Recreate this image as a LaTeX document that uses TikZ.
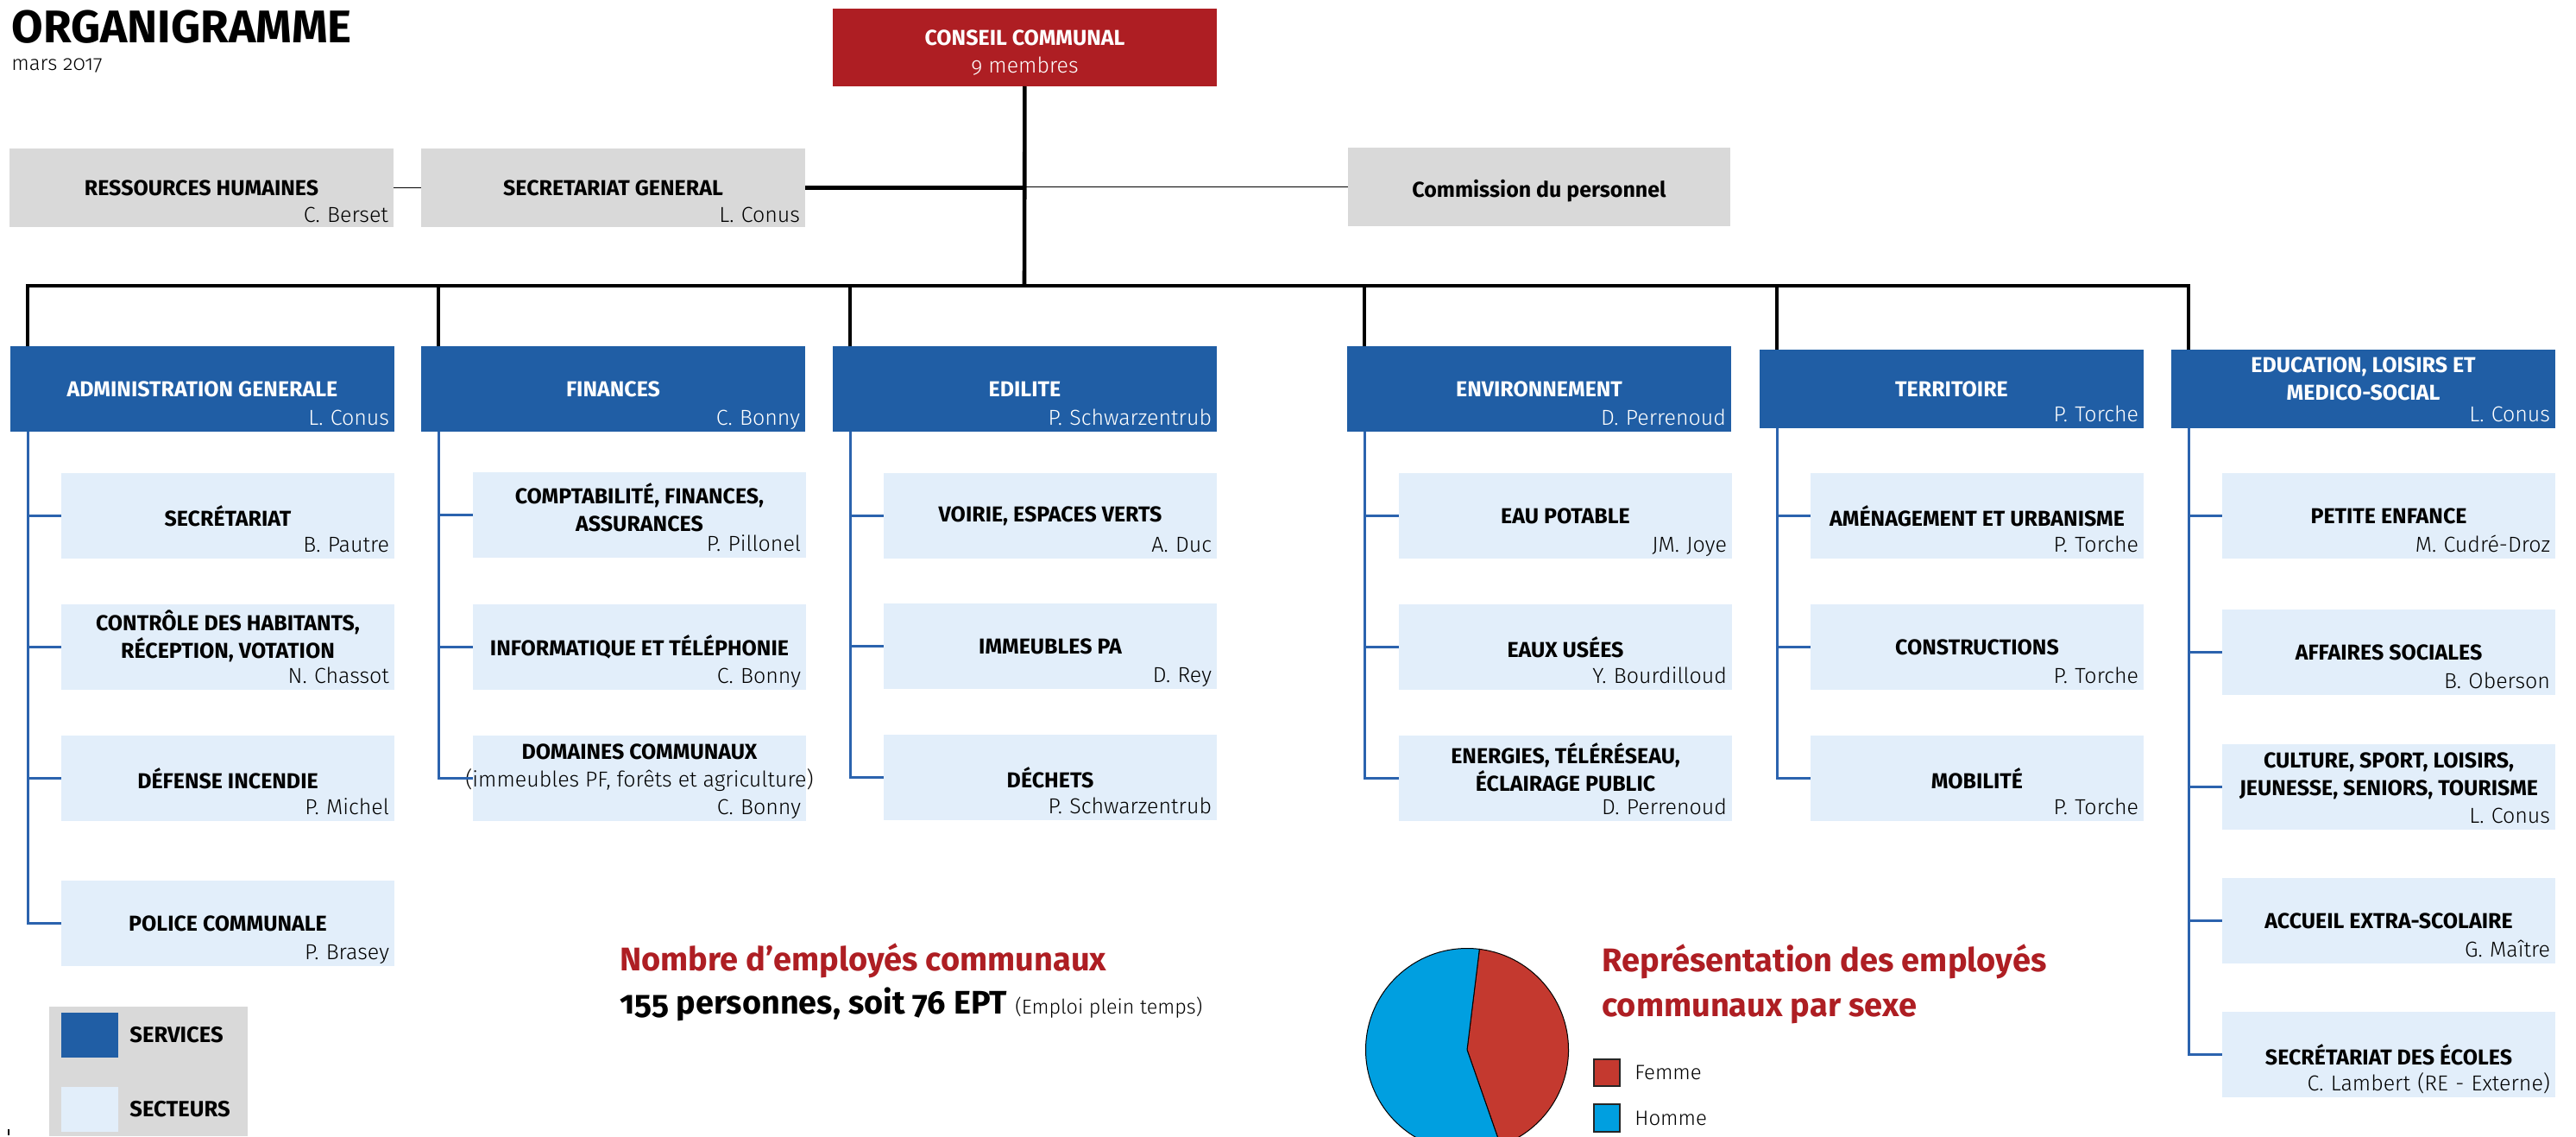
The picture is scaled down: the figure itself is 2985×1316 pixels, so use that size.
\documentclass[tikz,border=0pt]{standalone}
\usepackage{fontspec}
\setmainfont{Fira Sans}[Numbers=OldStyle]
\newfontfamily\lightfont{Fira Sans Light}[Numbers=OldStyle]
\usetikzlibrary{positioning}
\definecolor{ccred}{HTML}{AE1E23}
\definecolor{svcblue}{HTML}{205EA5}
\definecolor{secblue}{HTML}{E2EEFA}
\definecolor{boxgrey}{HTML}{D9D9D9}
\definecolor{linkblue}{HTML}{2B63AE}
\definecolor{piered}{HTML}{C4392F}
\definecolor{pieblue}{HTML}{009FE0}
\begin{document}
\begin{tikzpicture}[x=0.5pt, y=-0.5pt, line join=miter]
\tikzstyle{box}=[inner sep=0pt, outer sep=0pt, anchor=north west]
\tikzstyle{svc}=[box, fill=svcblue, minimum width=222.5pt, minimum height=49.5pt]
\tikzstyle{sec}=[box, fill=secblue, minimum width=193pt, minimum height=49.5pt]
\tikzstyle{gbox}=[box, fill=boxgrey, minimum width=222.5pt, minimum height=45.5pt]
\tikzstyle{ttl}=[inner sep=0pt, align=center, font=\fontsize{12.5}{16}\selectfont\bfseries]
\tikzstyle{ttlw}=[ttl, text=white]
\tikzstyle{who}=[inner sep=0pt, align=right, text height=9pt, text depth=0pt, font=\lightfont\fontsize{12.5}{15}\selectfont]
\tikzstyle{whos}=[who, text width=187pt, yshift=-16.5pt]
\tikzstyle{whov}=[who, text=white, text width=216.5pt, yshift=-16.25pt]
\tikzstyle{whovs}=[whov, yshift=2pt]
\tikzstyle{whog}=[who, text width=216.5pt, yshift=-15.25pt]
\tikzstyle{txt}=[inner sep=0pt, anchor=base west]
\tikzstyle{bus}=[line width=2.3pt]
\tikzstyle{fine}=[line width=0.6pt]
\tikzstyle{link}=[line width=1.5pt, draw=linkblue]
\path[use as bounding box, fill=white] (0,0) rectangle (2985,1316);

\node[txt, font=\fontsize{26.5}{30}\selectfont\bfseries] (title) at (13,50) {ORGANIGRAMME};
\node[txt, font=\lightfont\fontsize{12}{14}\selectfont] (date) at (13,82) {mars 2017};

\node[box, fill=ccred, minimum width=222.5pt, minimum height=45pt, label={[ttlw, yshift=-3pt]center:{CONSEIL COMMUNAL\\{\mdseries\lightfont 9 membres}}}] (cc) at (965,10) {};
\node[gbox, label={[ttl]center:{RESSOURCES HUMAINES}}, label={[whog]center:C. Berset}] (rh) at (11,172) {};
\node[gbox, label={[ttl]center:{SECRETARIAT GENERAL}}, label={[whog]center:L. Conus}] (sg) at (488,172) {};
\node[gbox, minimum width=221.5pt, label={[ttl, yshift=-2.5pt]center:{Commission du personnel}}] (cp) at (1562,171) {};

\node[svc, label={[ttlw]center:{ADMINISTRATION GENERALE}}, label={[whov]center:L. Conus}] (adm) at (12,401) {};
\node[svc, label={[ttlw]center:{FINANCES}}, label={[whov]center:C. Bonny}] (fin) at (488,401) {};
\node[svc, label={[ttlw]center:{EDILITE}}, label={[whov]center:P. Schwarzentrub}] (edil) at (965,401) {};
\node[svc, label={[ttlw]center:{ENVIRONNEMENT}}, label={[whov]center:D. Perrenoud}] (env) at (1561,401) {};
\node[svc, minimum height=45.5pt, label={[ttlw]center:{TERRITOIRE}}, label={[whovs]center:P. Torche}] (terr) at (2039,405) {};
\node[svc, minimum height=45.5pt, label={[ttlw, yshift=5.75pt]center:{EDUCATION, LOISIRS ET\\MEDICO-SOCIAL}}, label={[whovs]center:L. Conus}] (edu) at (2516,405) {};

\node[sec, label={[ttl]center:{SECRÉTARIAT}}, label={[whos]center:B. Pautre}] (adm1) at (71,548) {};
\node[sec, label={[ttl, yshift=6.5pt]center:{CONTRÔLE DES HABITANTS,\\RÉCEPTION, VOTATION}}, label={[whos]center:N. Chassot}] (adm2) at (71,700) {};
\node[sec, label={[ttl]center:{DÉFENSE INCENDIE}}, label={[whos]center:P. Michel}] (adm3) at (71,852) {};
\node[sec, label={[ttl]center:{POLICE COMMUNALE}}, label={[whos]center:P. Brasey}] (adm4) at (71,1020) {};

\node[sec, label={[ttl, yshift=4.5pt]center:{COMPTABILITÉ, FINANCES,\\ASSURANCES}}, label={[whos]center:P. Pillonel}] (fin1) at (548,547) {};
\node[sec, label={[ttl]center:{INFORMATIQUE ET TÉLÉPHONIE}}, label={[whos]center:C. Bonny}] (fin2) at (548,700) {};
\node[sec, label={[ttl, yshift=6pt]center:{DOMAINES COMMUNAUX\\{\mdseries\lightfont (immeubles PF, forêts et agriculture)}}}, label={[whos]center:C. Bonny}] (fin3) at (548,852) {};

\node[sec, label={[ttl]center:{VOIRIE, ESPACES VERTS}}, label={[whos]center:A. Duc}] (edil1) at (1024,548) {};
\node[sec, label={[ttl]center:{IMMEUBLES PA}}, label={[whos]center:D. Rey}] (edil2) at (1024,699) {};
\node[sec, label={[ttl]center:{DÉCHETS}}, label={[whos]center:P. Schwarzentrub}] (edil3) at (1024,851) {};

\node[sec, label={[ttl]center:{EAU POTABLE}}, label={[whos]center:JM. Joye}] (env1) at (1621,548) {};
\node[sec, label={[ttl]center:{EAUX USÉES}}, label={[whos]center:Y. Bourdilloud}] (env2) at (1621,700) {};
\node[sec, label={[ttl, yshift=6.5pt]center:{ENERGIES, TÉLÉRÉSEAU,\\ÉCLAIRAGE PUBLIC}}, label={[whos]center:D. Perrenoud}] (env3) at (1621,852) {};

\node[sec, label={[ttl]center:{AMÉNAGEMENT ET URBANISME}}, label={[whos]center:P. Torche}] (terr1) at (2098,548) {};
\node[sec, label={[ttl]center:{CONSTRUCTIONS}}, label={[whos]center:P. Torche}] (terr2) at (2098,700) {};
\node[sec, label={[ttl]center:{MOBILITÉ}}, label={[whos]center:P. Torche}] (terr3) at (2098,852) {};

\node[sec, label={[ttl]center:{PETITE ENFANCE}}, label={[whos]center:M. Cudré-Droz}] (edu1) at (2575,548) {};
\node[sec, label={[ttl]center:{AFFAIRES SOCIALES}}, label={[whos]center:B. Oberson}] (edu2) at (2575,706) {};
\node[sec, label={[ttl, yshift=6.5pt]center:{CULTURE, SPORT, LOISIRS,\\JEUNESSE, SENIORS, TOURISME}}, label={[whos]center:L. Conus}] (edu3) at (2575,862) {};
\node[sec, label={[ttl]center:{ACCUEIL EXTRA-SCOLAIRE}}, label={[whos]center:G. Maître}] (edu4) at (2575,1017) {};
\node[sec, label={[ttl]center:{SECRÉTARIAT DES ÉCOLES}}, label={[whos]center:C. Lambert (RE - Externe)}] (edu5) at (2575,1172) {};

\coordinate (hub) at (1187,331);
\draw[bus] (cc) -- (hub);
\foreach \s in {adm,fin,edil,env,terr,edu}
  \draw[bus] ([xshift=10pt]\s.north west) |- (hub);
\draw[bus] (sg.east) -- (sg.east -| hub);
\draw[fine] (rh) -- (sg);
\draw[fine] (cp.west -| hub) -- (cp);
\foreach \s/\n in {adm/1,adm/2,adm/3,adm/4,fin/1,fin/2,fin/3,edil/1,edil/2,edil/3,env/1,env/2,env/3,terr/1,terr/2,terr/3,edu/1,edu/2,edu/3,edu/4,edu/5}
  \draw[link] ([xshift=10pt]\s.south west) |- (\s\n.west);

\node[box, fill=boxgrey, minimum width=115pt, minimum height=75pt] (leg) at (57,1166) {};
\node[box, fill=svcblue, minimum width=33pt, minimum height=26pt] (legsvc) at (71,1173) {};
\node[box, fill=secblue, minimum width=33pt, minimum height=26pt] (legsec) at (71,1259) {};
\node[inner sep=0pt, right=6.5pt of legsvc, font=\fontsize{12.8}{15}\selectfont\bfseries] (legsvct) {SERVICES};
\node[inner sep=0pt, right=6.5pt of legsec, font=\fontsize{12.8}{15}\selectfont\bfseries] (legsect) {SECTEURS};
\draw[fine] (10,1308) -- (10,1315);

\node[txt, text=ccred, font=\fontsize{19}{24}\selectfont\bfseries] (nb) at (718,1124) {Nombre d’employés communaux};
\node[txt, font=\fontsize{18.9}{24}\selectfont\bfseries] (ept) at (718,1174) {155 personnes, soit 76 EPT {\mdseries\lightfont\fontsize{11.7}{14}\selectfont (Emploi plein temps)}};

\coordinate (pie) at (1700,1216);
\filldraw[fill=piered, draw=black, line width=0.5pt] (pie) -- ++(83:58.75pt) arc[start angle=83, end angle=-70.7, radius=58.75pt] -- cycle;
\filldraw[fill=pieblue, draw=black, line width=0.5pt] (pie) -- ++(83:58.75pt) arc[start angle=83, end angle=289.3, radius=58.75pt] -- cycle;
\node[anchor=north west, inner sep=0pt, align=left, text=ccred, font=\fontsize{19}{26}\selectfont\bfseries] (rep) at (1856,1093) {Représentation des employés\\communaux par sexe};
\node[box, fill=piered, draw=black!85, line width=0.6pt, minimum width=15pt, minimum height=15.5pt] (fem) at (1847,1227) {};
\node[box, fill=pieblue, draw=black!85, line width=0.6pt, minimum width=15pt, minimum height=16pt] (hom) at (1847,1279) {};
\node[inner sep=0pt, right=8.5pt of fem, font=\lightfont\fontsize{12}{14}\selectfont] (femt) {Femme};
\node[inner sep=0pt, right=8.5pt of hom, font=\lightfont\fontsize{12}{14}\selectfont] (homt) {Homme};
\end{tikzpicture}
\end{document}
